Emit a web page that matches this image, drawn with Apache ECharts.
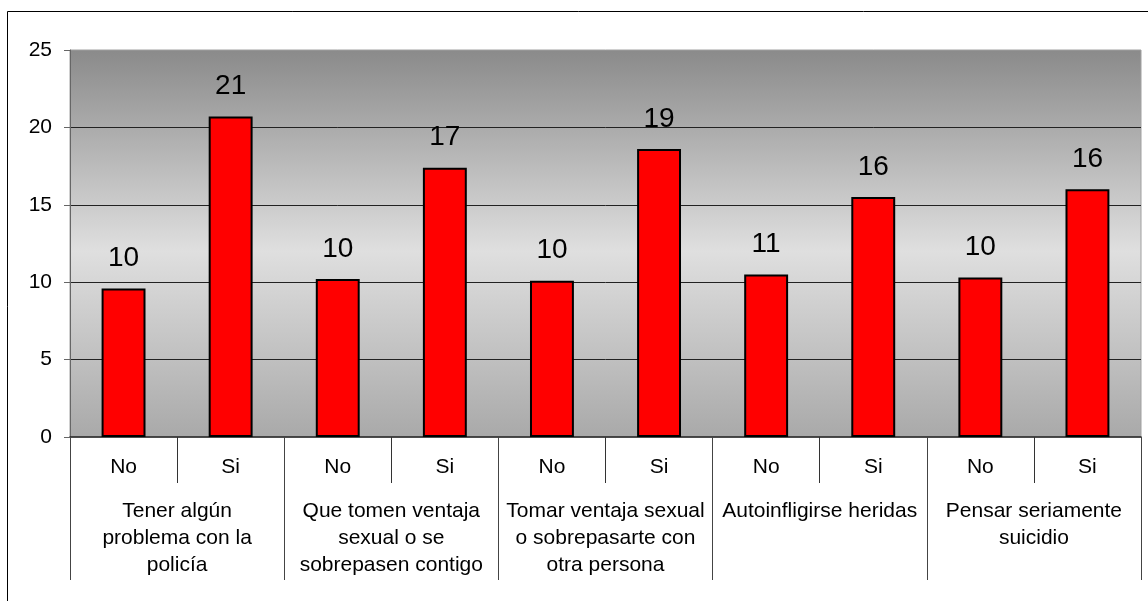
<!DOCTYPE html>
<html>
<head>
<meta charset="utf-8">
<script src="https://cdn.jsdelivr.net/npm/echarts@6/dist/echarts.min.js"></script>
<style>html,body{margin:0;padding:0;background:#fff}#c{width:1148px;height:601px}</style>
</head>
<body>
<div id="c"></div>
<script>
var answers = ['No','Si','No','Si','No','Si','No','Si','No','Si'];
var groups = ['Tener algún\nproblema con la\npolicía','Que tomen ventaja\nsexual o se\nsobrepasen contigo','Tomar ventaja sexual\no sobrepasarte con\notra persona','Autoinfligirse heridas','Pensar seriamente\nsuicidio'];
var values = [9.6, 20.7, 10.2, 17.4, 10.1, 18.6, 10.5, 15.5, 10.3, 16.0];
var yTicks = [0, 5, 10, 15, 20, 25];

var FONT = 'Liberation Sans, Arial, sans-serif';
var chart = echarts.init(document.getElementById('c'));
chart.setOption({
  animation: false,
  textStyle: {fontFamily: FONT, color: '#000'},
  graphic: [{
    type: 'rect', z: -10, silent: true,
    shape: {x: 7.5, y: 11.5, width: 1300, height: 800},
    style: {fill: 'none', stroke: '#000', lineWidth: 1}
  }],
  grid: {
    left: 70, right: 7, top: 50, bottom: 164,
    show: true,
    borderColor: '#a0a0a0', borderWidth: 1,
    backgroundColor: {
      type: 'linear', x: 0, y: 0, x2: 0, y2: 1,
      colorStops: [
        {offset: 0, color: '#8a8a8a'},
        {offset: 0.52, color: '#dfdfdf'},
        {offset: 1, color: '#a9a9a9'}
      ]
    }
  },
  xAxis: [{
    type: 'category', data: answers, position: 'bottom',
    axisLine: {show: true, lineStyle: {color: '#222', width: 1.5}},
    axisTick: {show: true, interval: 0, length: 46, lineStyle: {color: '#333'}},
    axisLabel: {interval: 0, fontSize: 21, color: '#000', margin: 20, lineHeight: 21, fontFamily: FONT}
  }, {
    type: 'category', data: groups, position: 'bottom',
    axisLine: {show: false},
    axisTick: {show: true, interval: 0, length: 143, lineStyle: {color: '#444'}},
    axisLabel: {interval: 0, fontSize: 21, color: '#000', margin: 61, lineHeight: 27, align: 'center', fontFamily: FONT}
  }],
  yAxis: {
    type: 'value', min: yTicks[0], max: yTicks[yTicks.length - 1], interval: 5,
    axisLine: {show: true, lineStyle: {color: '#666'}},
    axisTick: {show: true, length: 6, lineStyle: {color: '#666'}},
    axisLabel: {fontSize: 21, color: '#000', margin: 18, fontFamily: FONT},
    splitLine: {show: true, showMaxLine: false, showMinLine: false, lineStyle: {color: '#222', width: 1}}
  },
  series: [{
    type: 'bar', data: values, xAxisIndex: 0, barWidth: '41%',
    itemStyle: {color: '#ff0000', borderColor: '#000', borderWidth: 2},
    label: {
      show: true, position: 'top', distance: 16, fontSize: 28, color: '#000', fontFamily: FONT,
      formatter: function (p) { return Math.round(p.value); }
    }
  }]
});
</script>
</body>
</html>
